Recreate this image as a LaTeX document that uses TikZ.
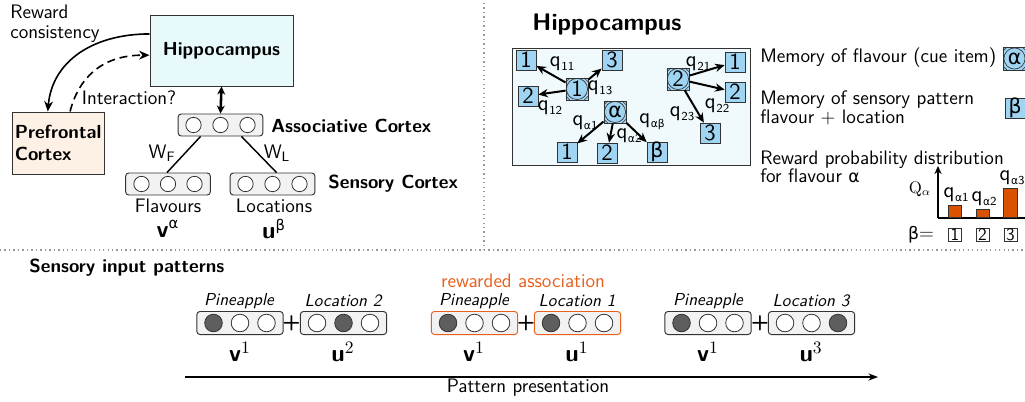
\documentclass[tikz,border=0pt]{standalone}
\usepackage{fontspec}
\usetikzlibrary{arrows.meta,calc}
\renewcommand{\familydefault}{\sfdefault}
\newfontfamily\grk{DejaVu Sans}[Scale=0.88]
\newcommand{\ga}{{\grk α}}
\newcommand{\gb}{{\grk β}}
\newcommand{\qsub}[1]{q\kern0.4pt\raisebox{-2.3pt}{\fontsize{7.6}{8}\selectfont #1}}

\definecolor{hipfill}{HTML}{E8F9FB}
\definecolor{pfcfill}{HTML}{FDF0E4}
\definecolor{panelfill}{HTML}{F0FAFD}
\definecolor{memfill}{HTML}{9FD4F3}
\definecolor{rowfill}{HTML}{F2F2F2}
\definecolor{unitdark}{HTML}{5E5E5E}
\definecolor{rewardtext}{HTML}{E8601C}
\definecolor{barfill}{HTML}{D95200}
\definecolor{edge}{HTML}{333333}

% one layer of three units: name, position, box style, unit style, spacing, fills
\newcommand{\unitrow}[8]{%
  \node[#3] (#1) at #2 {};
  \node[#4, fill=#6] (#1-1) at ($(#1.center)+(-#5,0)$) {};
  \node[#4, fill=#7] (#1-2) at (#1.center) {};
  \node[#4, fill=#8] (#1-3) at ($(#1.center)+(#5,0)$) {};
}

\begin{document}
\begin{tikzpicture}[x=0.625pt,y=-0.625pt,
  font=\fontsize{12.2}{13.5}\selectfont,
  txt/.style={inner sep=0pt},
  area/.style={draw=edge, line width=0.6pt},
  hipbox/.style={area, fill=hipfill, minimum width=89.4pt, minimum height=44.4pt, font=\fontsize{11.8}{13}\selectfont\bfseries},
  pfcbox/.style={area, fill=pfcfill, minimum width=57.5pt, minimum height=38.75pt, align=left, text width=54pt, inner sep=1.5pt, font=\fontsize{11.8}{13.5}\selectfont\bfseries},
  toprow/.style={draw=edge, fill=rowfill, rounded corners=2pt, minimum width=53pt, minimum height=13.75pt, line width=0.6pt},
  botrow/.style={toprow, minimum width=54pt, minimum height=14.4pt},
  redrow/.style={botrow, draw=rewardtext},
  smallunit/.style={circle, draw=edge, line width=0.5pt, minimum size=9.6pt, inner sep=0pt},
  bigunit/.style={circle, draw=edge, line width=0.5pt, minimum size=11pt, inner sep=0pt},
  mem/.style={draw=edge, fill=memfill, line width=0.5pt, minimum size=12.4pt, inner sep=0pt, font=\fontsize{14.5}{15}\selectfont},
  cue/.style={mem, minimum size=13.8pt, path picture={
      \draw[edge, line width=0.4pt] (path picture bounding box.center) circle (6.6pt);
      \draw[edge, line width=0.4pt] (path picture bounding box.north west) ++(2.4pt,0) -- ++(-2.4pt,-2.4pt);
      \draw[edge, line width=0.4pt] (path picture bounding box.north east) ++(-2.4pt,0) -- ++(2.4pt,-2.4pt);
      \draw[edge, line width=0.4pt] (path picture bounding box.south west) ++(2.4pt,0) -- ++(-2.4pt,2.4pt);
      \draw[edge, line width=0.4pt] (path picture bounding box.south east) ++(-2.4pt,0) -- ++(2.4pt,2.4pt);
  }},
  tick/.style={draw=edge, fill=white, line width=0.5pt, minimum size=8pt, inner sep=0pt, font=\fontsize{11}{12}\selectfont},
  marr/.style={-{Stealth[length=6pt,width=5.2pt]}, line width=1.25pt},
  bigarr/.style={-{Stealth[length=6.5pt,width=5.5pt]}, line width=1pt},
  sep/.style={draw=black!40, dotted, line width=0.8pt},
  qlab/.style={inner sep=0pt, font=\fontsize{13.5}{14}\selectfont},
  above lab/.style={inner sep=0pt, font=\fontsize{10.8}{12}\selectfont\itshape},
  vec lab/.style={inner sep=0pt, font=\fontsize{15}{16}\selectfont}
]
\useasboundingbox (0,0) rectangle (1025,401);

% ---------------- separators ----------------
\coordinate (vsepA) at (484,3);
\coordinate (vsepB) at (484,250);
\coordinate (hsepA) at (0,250);
\coordinate (hsepB) at (1025,250);
\draw[sep] (vsepA) -- (vsepB);
\draw[sep] (hsepA) -- (hsepB);

% ---------------- brain areas ----------------
\node[hipbox] (hip) at (221.5,50.5) {Hippocampus};
\node[pfcbox] (pfc) at (58,143) {Prefrontal\\Cortex};
\node[txt, anchor=north west, align=left, font=\fontsize{12.2}{12}\selectfont] (rc) at (10,5) {Reward\\consistency};
\node[txt] (inter) at (129,98) {Interaction?};

\draw[bigarr] ($(hip.north west)!0.27!(hip.south west)$)
  .. controls (92,34) and (52,62) .. ($(pfc.north west)!0.39!(pfc.north east)$);
\draw[bigarr, dashed, dash pattern=on 5pt off 3pt] ($(pfc.north west)!0.63!(pfc.north east)$)
  .. controls (78,80) and (100,55) .. ($(hip.north west)!0.565!(hip.south west)$);

% cortical layers
\unitrow{assoc}{(220.5,125)}{toprow}{smallunit}{27}{white}{white}{white}
\unitrow{flav}{(168,184)}{toprow}{smallunit}{26.5}{white}{white}{white}
\unitrow{loc}{(272.5,184)}{toprow}{smallunit}{27}{white}{white}{white}

\draw[{Stealth[length=5pt,width=5pt]}-{Stealth[length=5pt,width=5pt]}, line width=1.6pt] (hip.south) -- (assoc.north);
\draw[line width=0.9pt] ($(assoc.south)+(-20,0)$) -- ($(flav.north)+(-1,0)$);
\draw[line width=0.9pt] ($(assoc.south)+(21,0)$) -- ($(loc.north)+(4,0)$);

\node[txt] (wf) at (162,153) {W\textsubscript{F}};
\node[txt] (wl) at (277,153) {W\textsubscript{L}};
\node[txt, anchor=west, font=\fontsize{11.8}{13}\selectfont\bfseries] (assoclab) at (271,126) {Associative Cortex};
\node[txt, anchor=west, font=\fontsize{11.8}{13}\selectfont\bfseries] (senslab) at (328,184) {Sensory Cortex};
\node[txt] (flavlab) at (168,206) {Flavours};
\node[txt] (loclab) at (274,206) {Locations};
\node[vec lab] (vlab) at (168,229) {\textbf{v}\textsuperscript{\ga}};
\node[vec lab] (ulab) at (274,229) {\textbf{u}\textsuperscript{\gb}};

% ---------------- hippocampal memory ----------------
\node[txt, font=\fontsize{15}{16}\selectfont\bfseries] (hiptitle) at (607,24) {Hippocampus};
\node[area, fill=panelfill, minimum width=148.75pt, minimum height=73.1pt, inner sep=0pt] (panel) at (631,106.5) {};

\node[cue] (c1) at (577,89) {1};
\node[mem] (m11) at (526,60) {1};
\node[mem] (m13) at (612,60) {3};
\node[mem] (m12) at (528,96) {2};
\node[cue] (ca) at (615,112) {\ga};
\node[mem] (ma1) at (567,152) {1};
\node[mem] (ma2) at (607,153) {2};
\node[mem] (mab) at (657,152) {\gb};
\node[cue] (c2) at (678,79) {2};
\node[mem] (m21) at (735,62) {1};
\node[mem] (m22) at (735,92) {2};
\node[mem] (m23) at (710,133) {3};

\draw[marr] (c1) -- (m11);
\draw[marr] (c1) -- (m13);
\draw[marr] (c1) -- (m12);
\draw[marr] (ca) -- (ma1);
\draw[marr] (ca) -- (ma2);
\draw[marr] (ca) -- (mab);
\draw[marr] (c2) -- (m21);
\draw[marr] (c2) -- (m22);
\draw[marr] (c2) -- (m23);

\node[qlab] (q11) at (562,64) {\qsub{11}};
\node[qlab] (q13) at (600,88) {\qsub{13}};
\node[qlab] (q12) at (550,108) {\qsub{12}};
\node[qlab] (qa1) at (585,123) {\qsub{\ga1}};
\node[qlab] (qa2) at (629,136) {\qsub{\ga2}};
\node[qlab] (qab) at (652,122) {\qsub{\ga\gb}};
\node[qlab] (q21) at (698,64) {\qsub{21}};
\node[qlab] (q22) at (717,106) {\qsub{22}};
\node[qlab] (q23) at (682,114) {\qsub{23}};

% legend
\node[txt, anchor=west] (leg1) at (760,58) {Memory of flavour (cue item)};
\node[txt, anchor=west, align=left, font=\fontsize{12.2}{11}\selectfont] (leg2) at (760,108) {Memory of sensory pattern\\flavour + location};
\node[txt, anchor=west, align=left, font=\fontsize{12.2}{11.2}\selectfont] (leg3) at (760,167) {Reward probability distribution\\for flavour \ga};
\node[cue, minimum size=14.4pt] (legcue) at (1014.5,58.5) {\ga};
\node[mem] (legmem) at (1015,108) {\gb};

% reward distribution
\coordinate (orig) at (938,218);
\coordinate (ytop) at (938,166);
\coordinate (xend) at (1030,218);
\draw[-{Stealth[length=5pt,width=4.5pt]}, line width=1pt] (orig) -- (ytop);
\draw[line width=1pt] (orig) -- (xend);
\node[draw=black!80, fill=barfill, line width=0.5pt, minimum width=8.1pt, minimum height=7.5pt, inner sep=0pt, anchor=south] (bar1) at (954.5,218) {};
\node[draw=black!80, fill=barfill, line width=0.5pt, minimum width=8.1pt, minimum height=5pt, inner sep=0pt, anchor=south] (bar2) at (982.5,218) {};
\node[draw=black!80, fill=barfill, line width=0.5pt, minimum width=8.7pt, minimum height=18pt, inner sep=0pt, anchor=south] (bar3) at (1010,218) {};
\node[qlab] (qb1) at (956,195) {\qsub{\ga1}};
\node[qlab] (qb2) at (984,199) {\qsub{\ga2}};
\node[qlab] (qb3) at (1012,178) {\qsub{\ga3}};
\node[txt, font=\fontsize{10.5}{11}\selectfont] (qalab) at (920,189) {$\mathrm{Q}_{\alpha}$};
\node[txt] (betaeq) at (921,235) {\gb=};
\node[tick] (t1) at (955,235) {1};
\node[tick] (t2) at (982.5,235) {2};
\node[tick] (t3) at (1010.5,235) {3};

% ---------------- sensory input patterns ----------------
\node[txt, anchor=west, font=\fontsize{11.8}{13}\selectfont\bfseries] (siptitle) at (29,268) {Sensory input patterns};
\node[txt, text=rewardtext] (rewlab) at (523,281) {rewarded association};

\unitrow{pv1}{(240,323)}{botrow}{bigunit}{26.5}{unitdark}{white}{white}
\unitrow{pu2}{(343.5,323)}{botrow}{bigunit}{26.5}{white}{unitdark}{white}
\unitrow{pv2}{(474.5,323)}{redrow}{bigunit}{26.5}{unitdark}{white}{white}
\unitrow{pu1}{(577.5,323)}{redrow}{bigunit}{26.5}{unitdark}{white}{white}
\unitrow{pv3}{(708,323)}{botrow}{bigunit}{26.5}{unitdark}{white}{white}
\unitrow{pu3}{(811.5,323)}{botrow}{bigunit}{26.5}{white}{white}{unitdark}

\node[txt, font=\fontsize{13}{14}\selectfont\bfseries] (plus1) at (291.5,323) {+};
\node[txt, font=\fontsize{13}{14}\selectfont\bfseries] (plus2) at (526,323) {+};
\node[txt, font=\fontsize{13}{14}\selectfont\bfseries] (plus3) at (760,323) {+};

\node[above lab] (n1) at (239,301) {Pineapple};
\node[above lab] (n2) at (343,301) {Location 2};
\node[above lab] (n3) at (474,301) {Pineapple};
\node[above lab] (n4) at (577,301) {Location 1};
\node[above lab] (n5) at (708,301) {Pineapple};
\node[above lab] (n6) at (811,301) {Location 3};

\node[vec lab] (s1) at (240,352) {\textbf{v}$^1$};
\node[vec lab] (s2) at (343,352) {\textbf{u}$^2$};
\node[vec lab] (s3) at (474,352) {\textbf{v}$^1$};
\node[vec lab] (s4) at (577,352) {\textbf{u}$^1$};
\node[vec lab] (s5) at (708,352) {\textbf{v}$^1$};
\node[vec lab] (s6) at (811,352) {\textbf{u}$^3$};

\coordinate (tstart) at (185,377);
\coordinate (tend) at (878,377);
\draw[-{Stealth[length=6pt,width=4.5pt]}, line width=0.8pt] (tstart) -- (tend);
\node[txt] (tlab) at (528,388) {Pattern presentation};
\end{tikzpicture}
\end{document}
